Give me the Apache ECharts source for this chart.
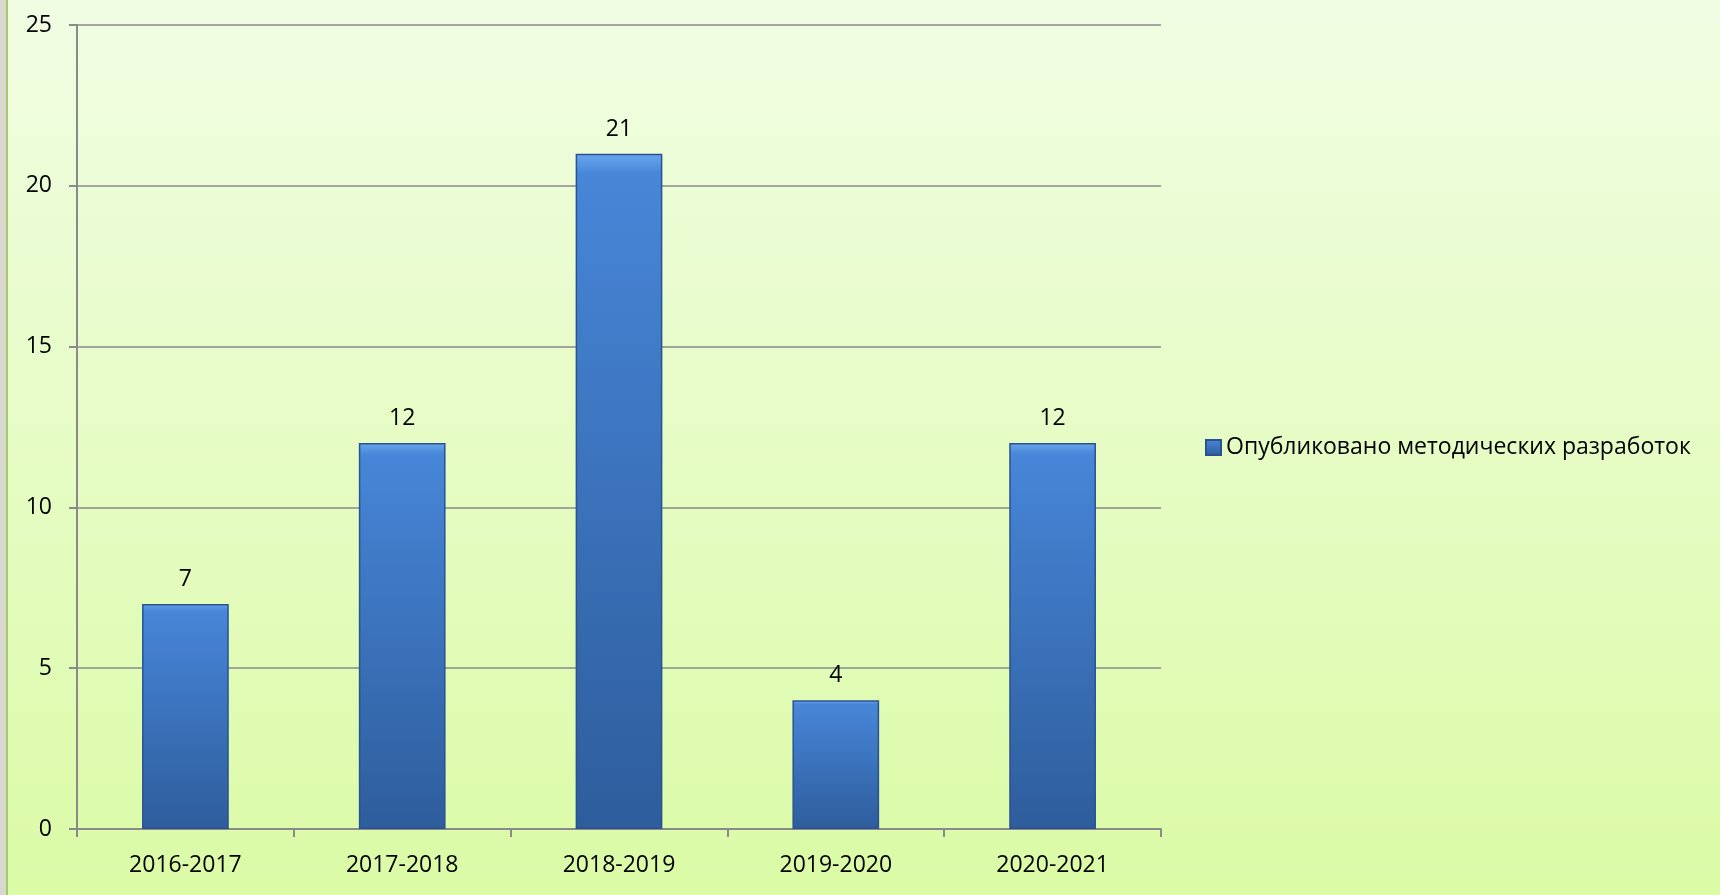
<!DOCTYPE html>
<html>
<head>
    <meta charset="utf-8">
    <title>ECharts</title>
    <script src="https://cdn.jsdelivr.net/npm/echarts@6/dist/echarts.min.js"></script>
    <style>
        html, body { margin: 0; padding: 0; }
        #main { width: 1720px; height: 895px; }
    </style>
</head>
<body>
<div id="main"></div>
<script type="text/javascript">
    // data
    var years = ['2016-2017', '2017-2018', '2018-2019', '2019-2020', '2020-2021'];
    var published = [7, 12, 21, 4, 12];
    var seriesName = 'Опубликовано методических разработок';

    var font = '"Open Sans", "Noto Sans", sans-serif';

    var myChart = echarts.init(document.getElementById('main'));

    var option = {
        backgroundColor: {
            type: 'linear', x: 0, y: 0, x2: 0, y2: 1,
            colorStops: [{offset: 0, color: '#f1fde3'}, {offset: 1, color: '#dbfba6'}]
        },
        graphic: [
            {type: 'rect', left: 0, top: 0, shape: {width: 6, height: 895}, style: {fill: '#d8d8d0'}},
            {type: 'rect', left: 6, top: 0, shape: {width: 2, height: 895}, style: {fill: '#a6c96a'}}
        ],
        legend: {
            orient: 'vertical',
            left: 1200,
            top: 431,
            itemWidth: 15,
            itemHeight: 15,
            itemGap: 6,
            textStyle: {fontFamily: font, fontSize: 23, color: '#000'},
            data: [{name: seriesName, icon: 'rect'}]
        },
        grid: {
            left: 77,
            right: 559,
            top: 25,
            bottom: 66,
            containLabel: false
        },
        xAxis: {
            type: 'category',
            data: years,
            axisLine: {lineStyle: {color: '#8a8a8a', width: 2}},
            axisTick: {show: true, length: 8, alignWithLabel: false, lineStyle: {color: '#8a8a8a', width: 2}},
            axisLabel: {fontFamily: font, fontSize: 23, color: '#000', margin: 25}
        },
        yAxis: {
            type: 'value',
            min: 0,
            max: 25,
            interval: 5,
            axisLine: {show: true, lineStyle: {color: '#8a8a8a', width: 2}},
            axisTick: {show: true, length: 8, lineStyle: {color: '#8a8a8a', width: 2}},
            axisLabel: {fontFamily: font, fontSize: 23, color: '#000', margin: 25},
            splitLine: {lineStyle: {color: '#8a8a8a', width: 1.5}}
        },
        series: [{
            name: seriesName,
            type: 'bar',
            data: published,
            barWidth: '40%',
            itemStyle: {
                color: {
                    type: 'linear', x: 0, y: 0, x2: 0, y2: 1,
                    colorStops: [
                        {offset: 0, color: '#6aa6ee'},
                        {offset: 0.03, color: '#4786d8'},
                        {offset: 1, color: '#2e5d9c'}
                    ]
                },
                borderColor: '#2a5290',
                borderWidth: 1.5
            },
            label: {
                show: true,
                position: 'top',
                distance: 13,
                fontFamily: font,
                fontSize: 23,
                color: '#000'
            }
        }]
    };

    myChart.setOption(option);
</script>
</body>
</html>
